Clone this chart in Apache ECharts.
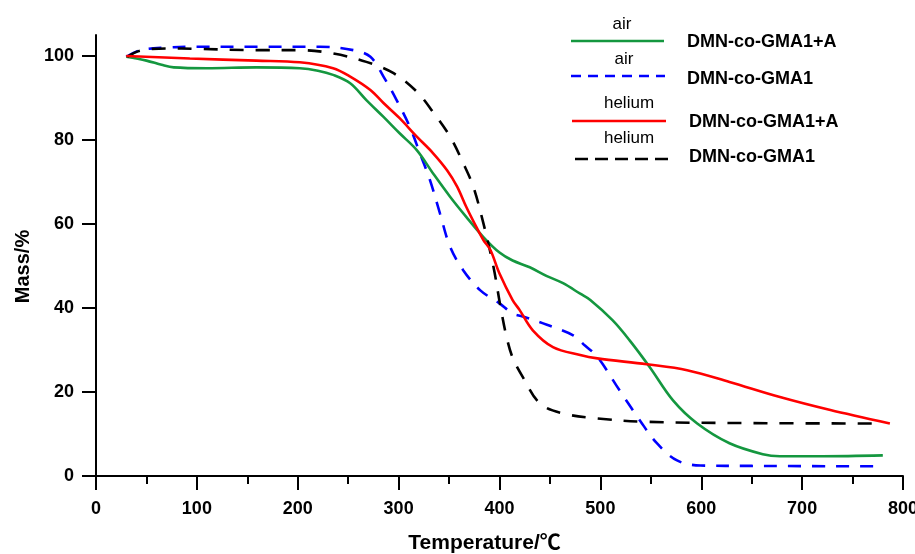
<!DOCTYPE html>
<html>
<head>
<meta charset="utf-8">
<script src="https://cdn.jsdelivr.net/npm/echarts@6/dist/echarts.min.js"></script>
<style>html,body{margin:0;padding:0;background:#fff}#c{width:915px;height:554px}</style>
</head>
<body>
<div id="c"></div>
<script>
// Temperature (°C) / Mass (%) pairs
const airGMA1A = [[30,99.8],[50,98.9],[65,97.9],[77,97.3],[110,97.1],[159,97.3],[202,97.1],[220,96.5],[235,95.5],[252,93.5],[268,89.5],[285,85.5],[301,81.6],[318,77.6],[334,72.1],[351,66.5],[367,61.7],[384,56.9],[400,53.2],[413,51.3],[430,49.7],[447,47.6],[463,45.9],[480,43.4],[490,41.9],[512,37.1],[529,32.3],[549,25.9],[572,18.0],[596,12.5],[628,7.8],[661,5.2],[678,4.7],[720,4.7],[780,4.9]];
const airGMA1 = [[30,99.8],[44,101.4],[70,102.0],[100,102.2],[160,102.2],[222,102.2],[255,101.4],[272,99.8],[285,95.1],[298,89.5],[311,83.2],[321,76.9],[331,70.5],[341,62.5],[351,54.6],[364,49.0],[381,44.2],[400,41.1],[413,38.7],[423,38.0],[447,36.0],[473,33.5],[485,31.0],[497,28.4],[519,20.4],[539,13.3],[556,7.8],[576,3.7],[599,2.5],[650,2.4],[780,2.3]];
const heGMA1A = [[30,100.0],[93,99.4],[159,98.9],[202,98.5],[235,97.1],[252,95.1],[272,91.9],[285,88.8],[301,85.2],[318,80.8],[334,76.9],[348,72.8],[358,68.9],[367,64.1],[377,59.3],[384,56.2],[391,53.8],[400,48.2],[413,41.9],[420,39.5],[433,34.7],[453,30.7],[480,28.8],[497,28.0],[546,26.6],[586,25.2],[628,22.4],[678,18.8],[728,15.7],[787,12.5]];
const heGMA1 = [[31,99.8],[44,101.3],[70,101.8],[100,101.7],[160,101.4],[202,101.4],[235,100.6],[268,98.6],[295,95.9],[318,91.5],[334,86.7],[351,80.8],[364,74.5],[374,68.9],[384,60.2],[394,49.8],[401,40.3],[407,33.1],[413,28.2],[423,23.6],[440,17.3],[463,14.9],[497,13.7],[546,12.9],[645,12.6],[780,12.5]];
const xTicks = [0,100,200,300,400,500,600,700,800];
const yTicks = [0,20,40,60,80,100];
const legendItems = [
  {cond:'air', name:'DMN-co-GMA1+A'},
  {cond:'air', name:'DMN-co-GMA1'},
  {cond:'helium', name:'DMN-co-GMA1+A'},
  {cond:'helium', name:'DMN-co-GMA1'}
];

const FONT = '"Liberation Sans", Arial, "Noto Sans CJK SC", sans-serif';
const colors = ['#14973f','#0000ff','#ff0000','#000000'];
const dashes = [null,[13,11],null,[14,12]];
const seriesData = [airGMA1A, airGMA1, heGMA1A, heGMA1];

const chart = echarts.init(document.getElementById('c'));

const legendLayout = [
  {tx:622, ty:24, x1:571, x2:664, ly:41, nx:687, ny:42, dash:null},
  {tx:624, ty:59, x1:571, x2:665, ly:76, nx:687, ny:79, dash:[10,7]},
  {tx:629, ty:103, x1:572, x2:666, ly:121, nx:689, ny:122, dash:null},
  {tx:629, ty:138, x1:575, x2:668, ly:159, nx:689, ny:157, dash:[13,7]}
];
const graphic = [];
legendItems.forEach((it,i)=>{
  const L = legendLayout[i];
  graphic.push({type:'text', x:L.tx, y:L.ty, style:{text:it.cond, font:'17px '+FONT, fill:'#000', textAlign:'center', textVerticalAlign:'middle'}});
  graphic.push({type:'line', shape:{x1:L.x1,y1:L.ly,x2:L.x2,y2:L.ly}, style:{stroke:colors[i], lineWidth:2.5, lineDash:L.dash}});
  graphic.push({type:'text', x:L.nx, y:L.ny, style:{text:it.name, font:'bold 18px '+FONT, fill:'#000', textAlign:'left', textVerticalAlign:'middle'}});
});

chart.setOption({
  animation:false,
  backgroundColor:'#fff',
  grid:{left:96, right:12, top:35, bottom:78, containLabel:false, outerBoundsMode:'none'},
  xAxis:{
    type:'value', min:0, max:800, interval:100,
    name:'Temperature/℃', nameLocation:'middle', nameGap:57,
    nameTextStyle:{fontFamily:FONT, fontWeight:'bold', fontSize:21, color:'#000', padding:[0,30,0,0]},
    axisLine:{show:true, onZero:false, lineStyle:{color:'#000', width:2}},
    axisTick:{show:true, inside:false, length:14, lineStyle:{color:'#000', width:2}},
    minorTick:{show:true, splitNumber:2, length:8, lineStyle:{color:'#000', width:2}},
    splitLine:{show:false},
    axisLabel:{margin:24, fontFamily:FONT, fontWeight:'bold', fontSize:18, color:'#000',
      customValues:xTicks}
  },
  yAxis:{
    type:'value', min:0, max:105, interval:20,
    name:'Mass/%', nameLocation:'middle', nameGap:62,
    nameTextStyle:{fontFamily:FONT, fontWeight:'bold', fontSize:20, color:'#000', padding:[0,22,0,0]},
    axisLine:{show:true, onZero:false, lineStyle:{color:'#000', width:2}},
    axisTick:{show:true, inside:false, length:14, lineStyle:{color:'#000', width:2}, customValues:yTicks},
    splitLine:{show:false},
    axisLabel:{margin:22, fontFamily:FONT, fontWeight:'bold', fontSize:18, color:'#000', customValues:yTicks}
  },
  graphic: graphic,
  series: seriesData.map((d,i)=>({
    type:'line', name:legendItems[i].cond+' '+legendItems[i].name, data:d,
    showSymbol:false, symbol:'none', smooth:0.35, clip:false,
    lineStyle:{color:colors[i], width:2.6, type: dashes[i] || 'solid'},
    z: [3,2,4,3][i]
  }))
});
</script>
</body>
</html>
